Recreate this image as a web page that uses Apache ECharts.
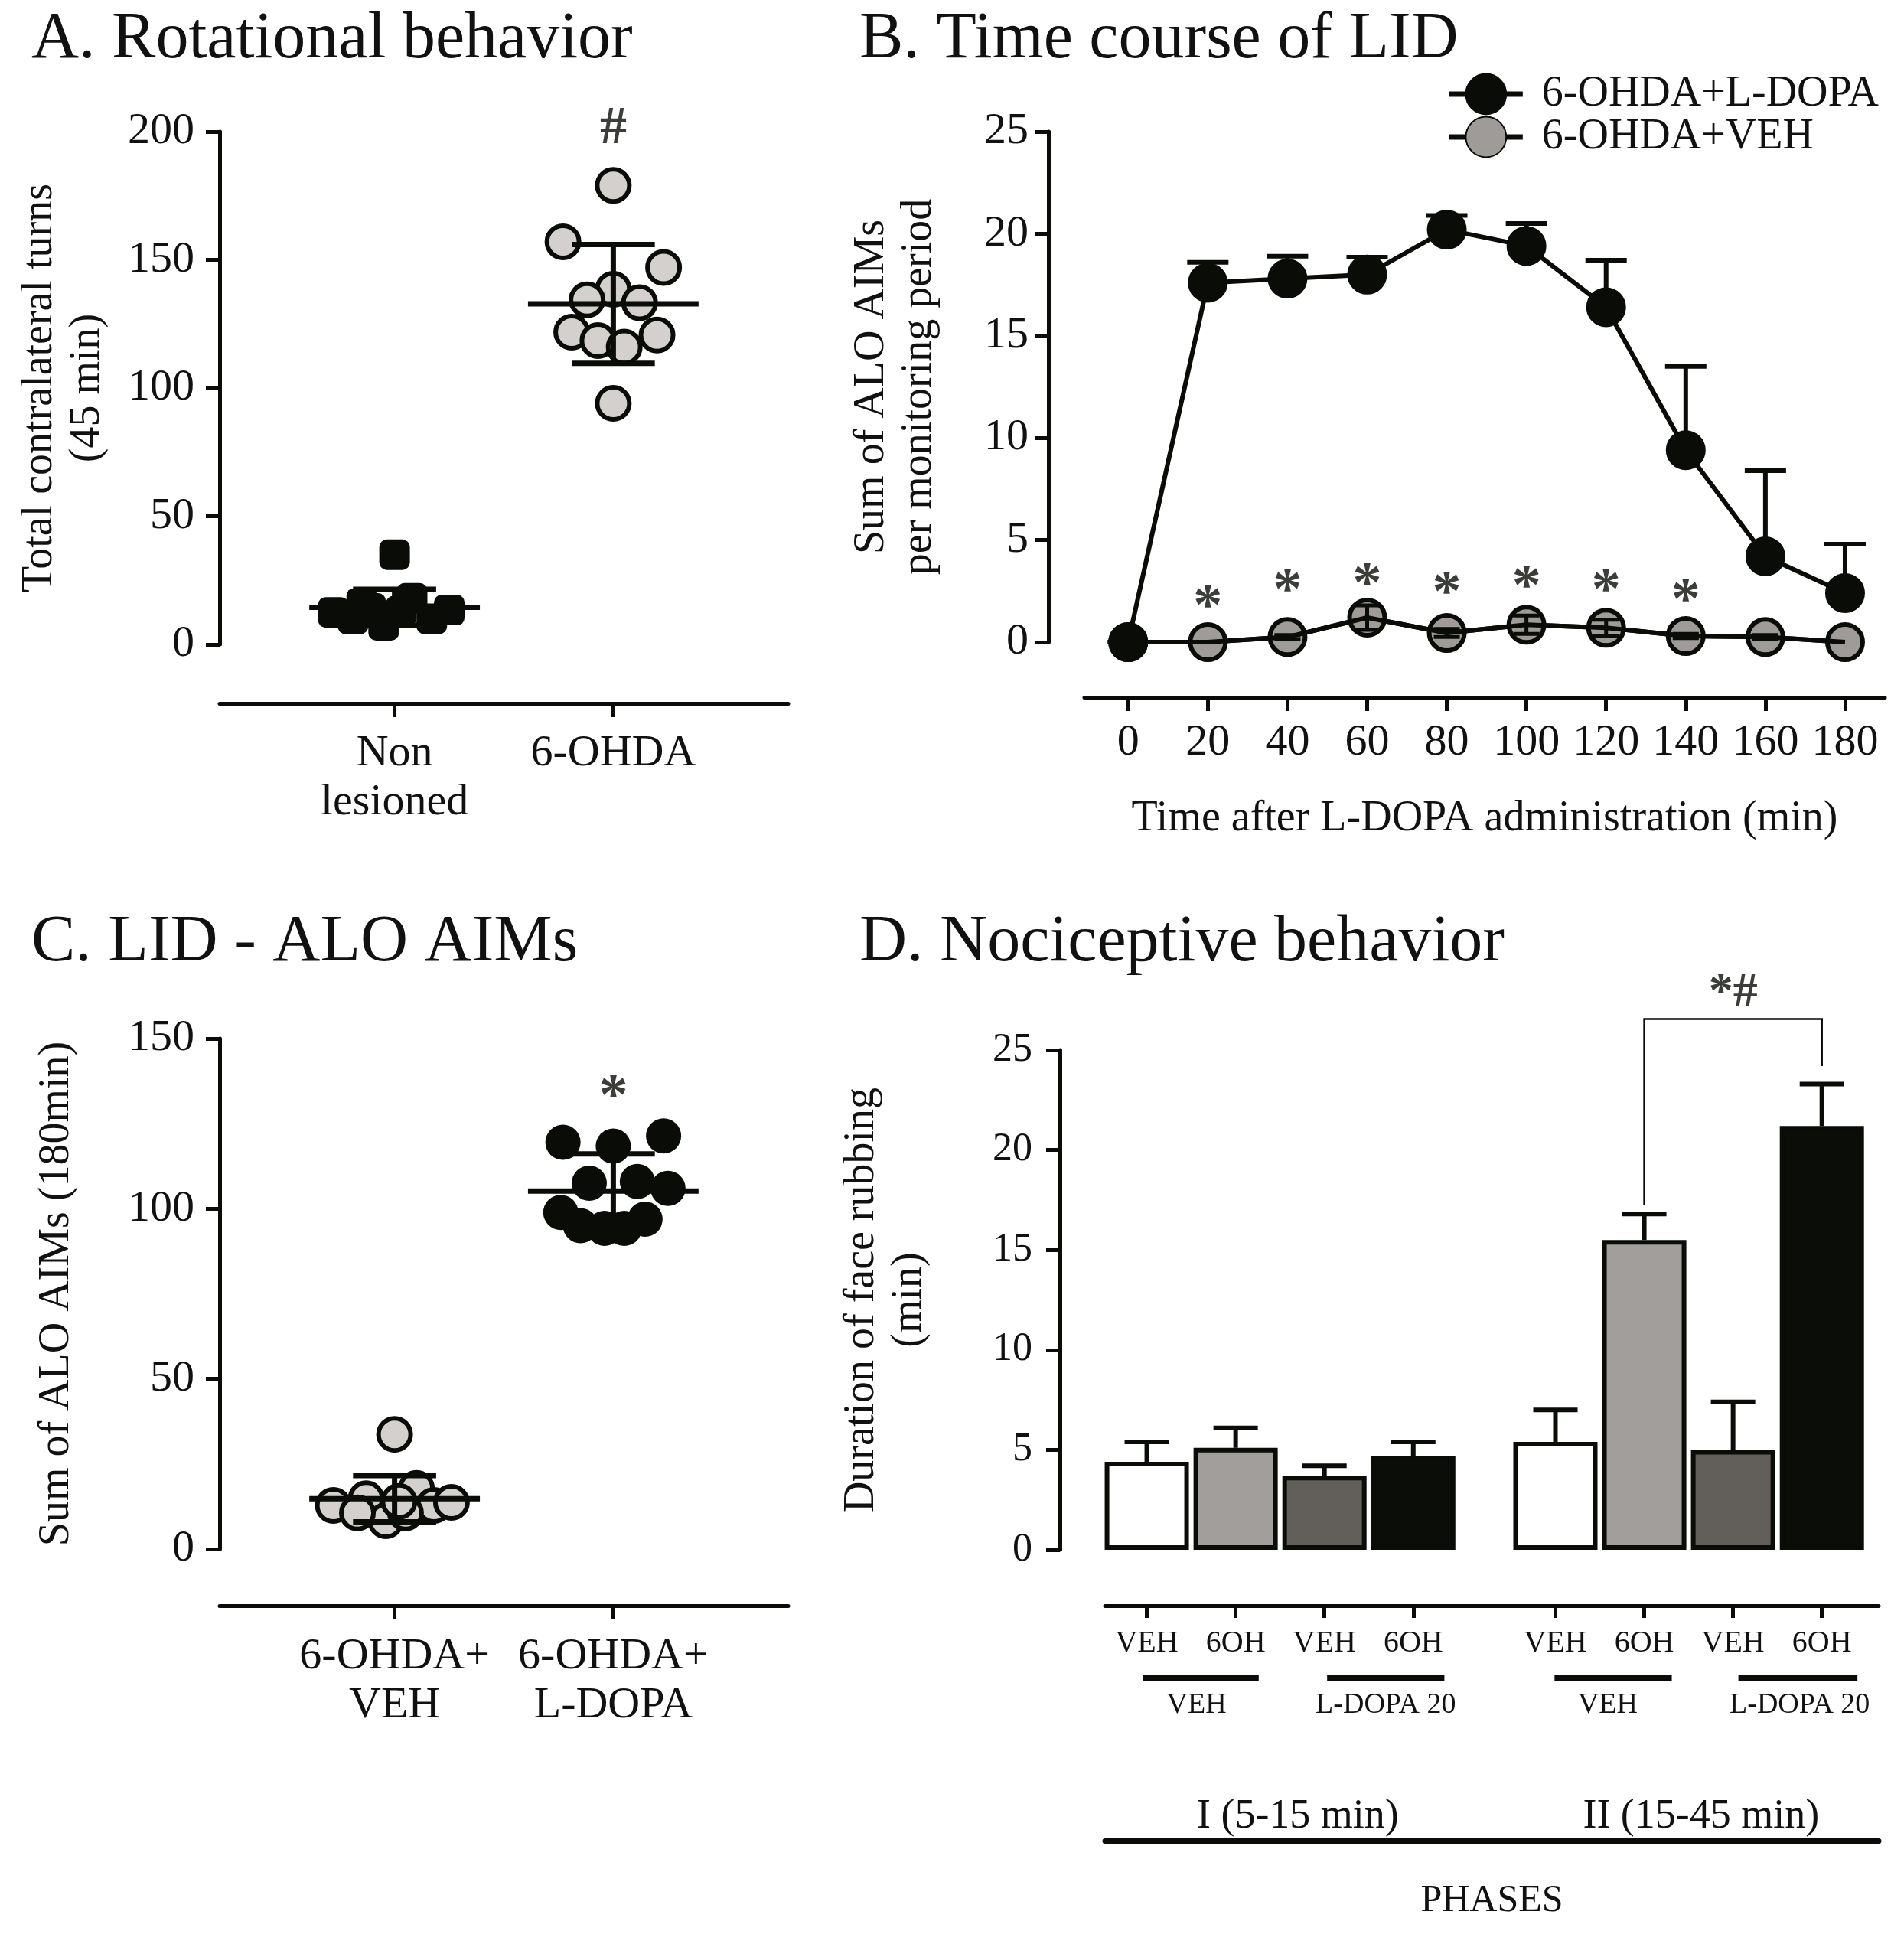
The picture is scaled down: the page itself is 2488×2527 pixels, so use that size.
<!DOCTYPE html>
<html><head><meta charset="utf-8">
<script src="https://cdn.jsdelivr.net/npm/echarts@6/dist/echarts.min.js"></script>
<style>html,body{margin:0;padding:0;background:#fff}#c{width:2488px;height:2527px}</style>
</head><body><div id="c"></div>
<script>
// ---------- Panel A: Rotational behavior ----------
const aCategories = ['Non\nlesioned', '6-OHDA'];
const aNonOffsets = [0.0, 0.08, -0.28, 0.25, -0.05, -0.19, 0.17, -0.11, 0.03, -0.15];
const aNonValues  = [35, 18, 12.5, 13.4, 7.5, 10, 10, 14, 13, 16];
const aOhdaOffsets = [0, -0.23, 0.23, 0, -0.12, 0.12, -0.19, 0.2, -0.07, 0.05, 0];
const aOhdaValues  = [179, 157, 147, 138.5, 134.4, 133.3, 121.8, 120.7, 118.5, 116, 94];
const aMeans = [14.5, 132.8];
const aSD    = [7.0, 23.2];
const aMark = {x: 2, y: 201, text: '#'};

// ---------- Panel B: Time course of LID ----------
const bTimes = [0, 20, 40, 60, 80, 100, 120, 140, 160, 180];
const bLdopa    = [0, 17.6, 17.8, 18.0, 20.2, 19.4, 16.4, 9.4, 4.2, 2.4];
const bLdopaSem = [0, 1.0, 1.1, 0.85, 0.7, 1.1, 2.3, 4.1, 4.2, 2.4];
const bVeh    = [0, 0, 0.25, 1.2, 0.45, 0.85, 0.7, 0.3, 0.25, 0];
const bVehSem = [0, 0, 0.1, 0.6, 0.2, 0.45, 0.4, 0.1, 0.1, 0];
const bStarTimes = [20, 40, 60, 80, 100, 120, 140];
const bStarY     = [2.3, 3.1, 3.4, 3.0, 3.3, 3.1, 2.6];

// ---------- Panel C: LID - ALO AIMs ----------
const cCategories = ['6-OHDA+\nVEH', '6-OHDA+\nL-DOPA'];
const cVehOffsets = [0.0, -0.28, -0.13, 0.10, 0.18, 0.26, -0.04, -0.17, 0.05, 0.02];
const cVehValues  = [33.7, 12.8, 14.8, 17.8, 12.8, 13.7, 8.3, 10.6, 10.6, 14];
const cLdopaOffsets = [-0.23, 0, 0.23, -0.11, 0.11, 0.25, -0.24, -0.15, -0.04, 0.05, 0.145];
const cLdopaValues  = [119.5, 118.4, 121.4, 107.5, 108, 106, 98.9, 95, 94.2, 94.2, 96.9];
const cMeans = [14.8, 105.2];
const cSD    = [6.8, 10.9];
const cMark = {x: 2, y: 136.5, text: '*'};

// ---------- Panel D: Nociceptive behavior ----------
const dPositions = [1, 2, 3, 4, 5.6, 6.6, 7.6, 8.6];
const dLabels = ['VEH', '6OH', 'VEH', '6OH', 'VEH', '6OH', 'VEH', '6OH'];
const dValues = [4.4, 5.1, 3.7, 4.7, 5.4, 15.5, 5.0, 21.2];
const dSem    = [1.0, 1.0, 0.5, 0.7, 1.6, 1.3, 2.4, 2.1];
const dColors = ['#ffffff', '#a29e9c', '#625f5b', '#0b0d09', '#ffffff', '#a29e9c', '#625f5b', '#0b0d09'];
const dGroupLabels  = ['VEH', 'L-DOPA 20', 'VEH', 'L-DOPA 20'];
const dGroupCenters = [1.56, 3.69, 6.19, 8.35];
const dGroupSpans   = [[0.96, 2.26], [3.03, 4.35], [5.59, 6.91], [7.66, 9.0]];
const dPhaseLabels  = ['I (5-15 min)', 'II (15-45 min)'];
const dPhaseCenters = [2.7, 7.24];
const dBracket = [[6.6, 8.6, 26.55, 17.25, 24.2]];
const dBracketMark = {x: 7.6, y: 28.2, text: '*#'};

// ---------- chart ----------
const FONT = 'Liberation Serif';
const INK = '#0a0c08';
const chart = echarts.init(document.getElementById('c'), null, {renderer: 'canvas'});

function axisBase() {
  return {
    axisLine: {show: true, onZero: false, lineStyle: {color: INK, width: 5}},
    axisTick: {show: true, length: 18, lineStyle: {color: INK, width: 5}},
    axisLabel: {color: '#111', fontSize: 58, fontFamily: FONT},
    splitLine: {show: false},
    nameTextStyle: {color: '#111', fontSize: 56, fontFamily: FONT, lineHeight: 62}
  };
}
function deepAxis(over) {
  const o = axisBase();
  for (const k in over) {
    if (typeof over[k] === 'object' && !Array.isArray(over[k]) && o[k]) o[k] = Object.assign({}, o[k], over[k]);
    else o[k] = over[k];
  }
  return o;
}

function meanSdItem(params, api) {
  const c = api.value(0), m = api.value(1), s = api.value(2);
  const L = api.coord([c - 0.39, m]), R = api.coord([c + 0.39, m]);
  const T = api.coord([c, m + s]), B = api.coord([c, m - s]);
  const cl = api.coord([c - 0.19, m])[0], cr = api.coord([c + 0.19, m])[0];
  const st = {stroke: INK, lineWidth: 7};
  return {type: 'group', children: [
    {type: 'line', shape: {x1: L[0], y1: L[1], x2: R[0], y2: R[1]}, style: st},
    {type: 'line', shape: {x1: T[0], y1: T[1], x2: B[0], y2: B[1]}, style: st},
    {type: 'line', shape: {x1: cl, y1: T[1], x2: cr, y2: T[1]}, style: st},
    {type: 'line', shape: {x1: cl, y1: B[1], x2: cr, y2: B[1]}, style: st}
  ]};
}
function errUp(cap, lw) {
  return function (params, api) {
    const x = api.value(0), v = api.value(1), e = api.value(2);
    const p0 = api.coord([x, v]), p1 = api.coord([x, v + e]);
    const st = {stroke: INK, lineWidth: lw};
    return {type: 'group', children: [
      {type: 'line', shape: {x1: p0[0], y1: p0[1], x2: p1[0], y2: p1[1]}, style: st},
      {type: 'line', shape: {x1: p1[0] - cap / 2, y1: p1[1], x2: p1[0] + cap / 2, y2: p1[1]}, style: st}
    ]};
  };
}
function errBoth(cap, lw) {
  return function (params, api) {
    const x = api.value(0), v = api.value(1), e = api.value(2);
    if (!e) return null;
    const p0 = api.coord([x, v - e]), p1 = api.coord([x, v + e]);
    const st = {stroke: INK, lineWidth: lw};
    return {type: 'group', children: [
      {type: 'line', shape: {x1: p0[0], y1: p0[1], x2: p1[0], y2: p1[1]}, style: st},
      {type: 'line', shape: {x1: p1[0] - cap / 2, y1: p1[1], x2: p1[0] + cap / 2, y2: p1[1]}, style: st},
      {type: 'line', shape: {x1: p0[0] - cap / 2, y1: p0[1], x2: p0[0] + cap / 2, y2: p0[1]}, style: st}
    ]};
  };
}
function textMark(xi, yi, m, size, dy) {
  return {
    type: 'scatter', xAxisIndex: xi, yAxisIndex: yi, clip: false, silent: true,
    symbolSize: 1, itemStyle: {color: 'rgba(0,0,0,0)'},
    label: {show: true, position: 'inside', formatter: m.text, color: INK, fontSize: size, fontWeight: 'bold', fontFamily: FONT, offset: [0, dy]},
    data: [[m.x, m.y]], z: 5
  };
}
const pair = (offs, vals, base) => vals.map((v, i) => [base + offs[i], v]);

const option = {
  animation: false,
  backgroundColor: '#fff',
  textStyle: {fontFamily: FONT},
  title: [
    {text: 'A. Rotational behavior', left: 36, top: 4},
    {text: 'B. Time course of LID', left: 1118, top: 4},
    {text: 'C. LID - ALO AIMs', left: 36, top: 1184},
    {text: 'D. Nociceptive behavior', left: 1118, top: 1184}
  ].map(t => Object.assign(t, {textStyle: {fontFamily: FONT, fontSize: 86, fontWeight: 'normal', color: '#111'}})),
  legend: {
    orient: 'vertical', right: 28, top: 90, itemWidth: 96, itemHeight: 66, itemGap: 0,
    lineStyle: {width: 7, color: INK},
    textStyle: {fontFamily: FONT, fontSize: 56, color: '#111', padding: [0, 0, 0, 20]},
    data: ['6-OHDA+L-DOPA', '6-OHDA+VEH']
  },
  grid: [
    {left: 287, top: 172, width: 743, height: 670},
    {left: 1417, top: 172, width: 1046, height: 667},
    {left: 287, top: 1357, width: 743, height: 667},
    {left: 1444, top: 1372, width: 1011, height: 653}
  ],
  xAxis: [
    deepAxis({type: 'value', gridIndex: 0, position: 'bottom', min: 0.2, max: 2.8, offset: 77,
      axisTick: {customValues: [1, 2], length: 18},
      axisLabel: {customValues: [1, 2], margin: 34, lineHeight: 64, fontSize: 58, formatter: v => aCategories[Math.round(v) - 1]}}),
    deepAxis({type: 'value', gridIndex: 1, position: 'bottom', min: -11, max: 190, offset: 72,
      axisTick: {customValues: bTimes, length: 18},
      axisLabel: {customValues: bTimes, margin: 31, fontSize: 58},
      name: 'Time after L-DOPA administration (min)', nameLocation: 'middle', nameGap: 128}),
    deepAxis({type: 'value', gridIndex: 2, position: 'bottom', min: 0.2, max: 2.8, offset: 74,
      axisTick: {customValues: [1, 2], length: 18},
      axisLabel: {customValues: [1, 2], margin: 35, lineHeight: 64, fontSize: 58, formatter: v => cCategories[Math.round(v) - 1]}}),
    deepAxis({type: 'value', gridIndex: 3, position: 'bottom', min: 0.53, max: 9.24, offset: 73,
      axisTick: {customValues: dPositions, length: 16},
      axisLabel: {customValues: dPositions, margin: 29, fontSize: 40, formatter: v => dLabels[dPositions.indexOf(v)]}}),
    deepAxis({type: 'value', gridIndex: 3, position: 'bottom', min: 0.53, max: 9.24, offset: 168,
      axisLine: {show: false}, axisTick: {show: false},
      axisLabel: {customValues: dGroupCenters, margin: 16, fontSize: 38, formatter: v => dGroupLabels[dGroupCenters.indexOf(v)]}}),
    deepAxis({type: 'value', gridIndex: 3, position: 'bottom', min: 0.53, max: 9.24, offset: 380,
      axisLine: {show: true, lineStyle: {color: INK, width: 7}}, axisTick: {show: false},
      axisLabel: {customValues: dPhaseCenters, inside: true, margin: 4, fontSize: 54, formatter: v => dPhaseLabels[dPhaseCenters.indexOf(v)]},
      name: 'PHASES', nameLocation: 'middle', nameGap: 48, nameTextStyle: {fontSize: 50}})
  ],
  yAxis: [
    deepAxis({type: 'value', gridIndex: 0, min: 0, max: 200, interval: 50,
      axisLabel: {margin: 33},
      name: 'Total contralateral turns\n(45 min)', nameLocation: 'middle', nameGap: 142}),
    deepAxis({type: 'value', gridIndex: 1, min: 0, max: 25, interval: 5, offset: 47,
      axisLabel: {margin: 26},
      name: 'Sum of ALO AIMs\nper monitoring period', nameLocation: 'middle', nameGap: 138}),
    deepAxis({type: 'value', gridIndex: 2, min: 0, max: 150, interval: 50,
      axisLabel: {margin: 33},
      name: 'Sum of ALO AIMs (180min)', nameLocation: 'middle', nameGap: 182}),
    deepAxis({type: 'value', gridIndex: 3, min: 0, max: 25, interval: 5, offset: 59,
      axisLabel: {margin: 36, fontSize: 52},
      name: 'Duration of face rubbing\n(min)', nameLocation: 'middle', nameGap: 166})
  ],
  series: [
    // Panel A
    {type: 'scatter', xAxisIndex: 0, yAxisIndex: 0, symbol: 'roundRect', symbolSize: 40,
      itemStyle: {color: INK, opacity: 1}, data: pair(aNonOffsets, aNonValues, 1)},
    {type: 'scatter', xAxisIndex: 0, yAxisIndex: 0, symbol: 'circle', symbolSize: 42,
      itemStyle: {color: '#d3d0ce', borderColor: INK, borderWidth: 6, opacity: 1}, data: pair(aOhdaOffsets, aOhdaValues, 2)},
    {type: 'custom', xAxisIndex: 0, yAxisIndex: 0, renderItem: meanSdItem, z: 4,
      data: aMeans.map((m, i) => [i + 1, m, aSD[i]])},
    textMark(0, 0, aMark, 70, 0),

    // Panel B
    {type: 'line', name: '6-OHDA+VEH', xAxisIndex: 1, yAxisIndex: 1, symbol: 'circle', symbolSize: 46,
      lineStyle: {color: INK, width: 6}, itemStyle: {color: '#9e9b99', borderColor: INK, borderWidth: 6},
      data: bTimes.map((t, i) => [t, bVeh[i]]), z: 2},
    {type: 'line', xAxisIndex: 1, yAxisIndex: 1, showSymbol: false, symbol: 'none',
      lineStyle: {color: INK, width: 6}, data: bTimes.map((t, i) => [t, bVeh[i]]), z: 3},
    {type: 'custom', xAxisIndex: 1, yAxisIndex: 1, renderItem: errBoth(34, 5), z: 3,
      data: bTimes.map((t, i) => [t, bVeh[i], bVehSem[i]])},
    {type: 'custom', xAxisIndex: 1, yAxisIndex: 1, renderItem: errUp(54, 6), z: 3,
      data: bTimes.map((t, i) => [t, bLdopa[i], bLdopaSem[i]])},
    {type: 'line', name: '6-OHDA+L-DOPA', xAxisIndex: 1, yAxisIndex: 1, symbol: 'circle', symbolSize: 46,
      lineStyle: {color: INK, width: 6}, itemStyle: {color: INK, borderColor: INK, borderWidth: 6},
      data: bTimes.map((t, i) => [t, bLdopa[i]]), z: 4},
    {type: 'scatter', xAxisIndex: 1, yAxisIndex: 1, clip: false, silent: true, symbolSize: 1,
      itemStyle: {color: 'rgba(0,0,0,0)'},
      label: {show: true, position: 'inside', formatter: '*', color: INK, fontSize: 76, fontWeight: 'bold', fontFamily: FONT, offset: [0, 18]},
      data: bStarTimes.map((t, i) => [t, bStarY[i]]), z: 5},

    // Panel C
    {type: 'scatter', xAxisIndex: 2, yAxisIndex: 2, symbol: 'circle', symbolSize: 42,
      itemStyle: {color: '#d3d0ce', borderColor: INK, borderWidth: 6, opacity: 1}, data: pair(cVehOffsets, cVehValues, 1)},
    {type: 'scatter', xAxisIndex: 2, yAxisIndex: 2, symbol: 'circle', symbolSize: 46,
      itemStyle: {color: INK, opacity: 1}, data: pair(cLdopaOffsets, cLdopaValues, 2)},
    {type: 'custom', xAxisIndex: 2, yAxisIndex: 2, renderItem: meanSdItem, z: 4,
      data: cMeans.map((m, i) => [i + 1, m, cSD[i]])},
    textMark(2, 2, cMark, 76, 18),

    // Panel D
    {type: 'custom', xAxisIndex: 3, yAxisIndex: 3, renderItem: errUp(58, 6), z: 1,
      data: dPositions.map((x, i) => [x, dValues[i], dSem[i]])},
    {type: 'bar', xAxisIndex: 3, yAxisIndex: 3, barWidth: 110, z: 2,
      itemStyle: {borderColor: INK, borderWidth: 6},
      data: dPositions.map((x, i) => ({value: [x, dValues[i]], itemStyle: {color: dColors[i]}}))},
    {type: 'custom', xAxisIndex: 3, yAxisIndex: 3, clip: false, z: 3,
      renderItem: function (params, api) {
        const a = api.value(0), b = api.value(1), top = api.value(2), l = api.value(3), r = api.value(4);
        const p = [api.coord([a, l]), api.coord([a, top]), api.coord([b, top]), api.coord([b, r])];
        return {type: 'polyline', shape: {points: p}, style: {stroke: INK, lineWidth: 2.5, fill: null}};
      },
      data: dBracket},
    textMark(3, 3, dBracketMark, 64, 10),
    {type: 'custom', xAxisIndex: 3, yAxisIndex: 3, clip: false, z: 3,
      renderItem: function (params, api) {
        const y = api.coord([api.value(0), 0])[1] + 168;
        const x1 = api.coord([api.value(0), 0])[0], x2 = api.coord([api.value(1), 0])[0];
        return {type: 'line', shape: {x1: x1, y1: y, x2: x2, y2: y}, style: {stroke: INK, lineWidth: 8}};
      },
      data: dGroupSpans}
  ]
};
chart.setOption(option);
</script></body></html>
